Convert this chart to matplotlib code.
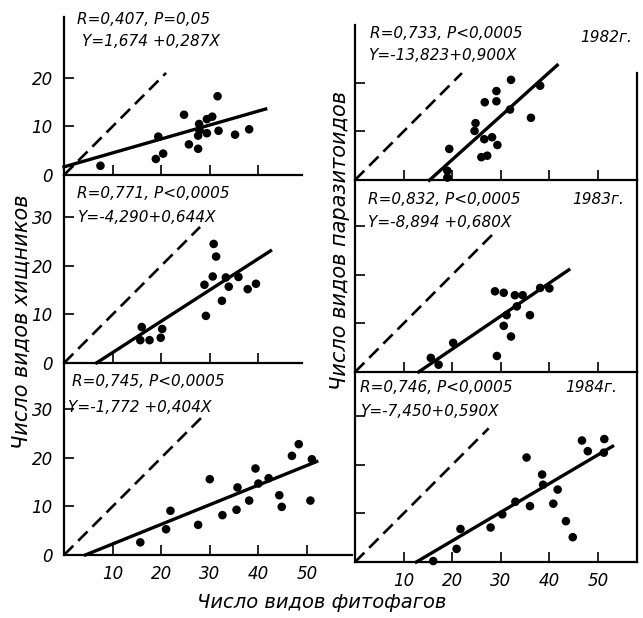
import numpy as np
import matplotlib
matplotlib.use("Agg")
from matplotlib import pyplot as plt

plt.rcParams["font.family"] = ["DejaVu Sans"]
plt.rcParams["font.style"] = "italic"

# predators (left column) vs phytophages, 1982..1984
pred82_x = [7.5, 18.9, 20.4, 19.4, 24.7, 25.7, 27.6, 27.6, 27.8, 27.9, 29.4, 29.4, 30.5, 31.6, 31.8, 35.2, 38.1]
pred82_y = [1.9, 3.3, 4.4, 7.9, 12.4, 6.3, 5.4, 8.1, 10.5, 9.2, 8.6, 11.5, 12.0, 16.2, 9.1, 8.3, 9.4]
pred83_x = [30.8, 31.3, 30.6, 33.3, 35.9, 28.9, 33.9, 37.8, 39.5, 32.5, 29.2, 16.0, 20.2, 15.7, 17.6, 19.9]
pred83_y = [24.5, 21.9, 17.8, 17.6, 17.7, 16.1, 15.7, 15.2, 16.3, 12.8, 9.7, 7.4, 7.0, 4.7, 4.7, 5.2]
pred84_x = [15.7, 21.0, 21.9, 27.6, 30.0, 32.6, 35.5, 35.7, 38.1, 39.4, 40.0, 42.1, 44.3, 44.8, 46.9, 48.3, 51.0, 50.7]
pred84_y = [2.6, 5.3, 9.1, 6.2, 15.6, 8.2, 9.3, 13.9, 11.2, 17.8, 14.7, 15.8, 12.3, 9.9, 20.4, 22.8, 19.7, 11.2]

# parasitoids (right column)
par82_x = [32.1, 29.1, 29.1, 26.7, 31.9, 38.1, 36.2, 24.8, 24.6, 26.6, 28.2, 29.3, 19.4, 26.0, 27.2, 19.0, 19.0]
par82_y = [20.6, 18.3, 16.2, 16.0, 14.5, 19.4, 12.8, 11.7, 10.1, 8.4, 8.8, 7.2, 6.4, 4.7, 5.0, 1.9, 0.5]
par83_x = [28.8, 30.6, 32.9, 34.5, 38.1, 40.0, 33.3, 31.2, 36.0, 30.6, 32.1, 20.2, 15.6, 17.2, 29.2]
par83_y = [16.6, 16.3, 15.8, 15.8, 17.3, 17.2, 13.5, 11.7, 11.7, 9.5, 7.3, 6.0, 2.9, 1.5, 3.3]
par84_x = [16.1, 20.9, 21.7, 27.9, 30.3, 33.0, 35.3, 36.0, 38.5, 38.7, 41.7, 40.8, 43.4, 44.8, 46.7, 47.9, 51.3, 51.2]
par84_y = [0.2, 2.7, 6.8, 7.1, 9.8, 12.4, 21.5, 11.5, 18.0, 15.9, 14.9, 12.0, 8.4, 5.1, 25.0, 22.8, 25.3, 22.5]

# regression Y = a + bX and the x span drawn
reg_a = [1.674, -13.823, -4.290, -8.894, -1.772, -7.450]
reg_b = [0.287, 0.900, 0.644, 0.680, 0.404, 0.590]
reg_x0 = [0.0, 15.3, 6.7, 13.1, 4.4, 12.6]
reg_x1 = [41.5, 41.6, 42.5, 44.0, 52.0, 53.0]
diag_end = [21, 22, 28, 28.5, 28.5, 27.5]

stat_r = ["R=0,407, P=0,05", "R=0,733, P<0,0005", "R=0,771, P<0,0005",
          "R=0,832, P<0,0005", "R=0,745, P<0,0005", "R=0,746, P<0,0005"]
stat_eq = ["Y=1,674 +0,287X", "Y=-13,823+0,900X", "Y=-4,290+0,644X",
           "Y=-8,894 +0,680X", "Y=-1,772 +0,404X", "Y=-7,450+0,590X"]
years = ["", "1982г.", "", "1983г.", "", "1984г."]

xs = [pred82_x, par82_x, pred83_x, par83_x, pred84_x, par84_x]
ys = [pred82_y, par82_y, pred83_y, par83_y, pred84_y, par84_y]

W, H = 643, 618
PX = 4.86  # pixels per unit

def box(l, t, r, b):
    return [l / W, 1 - b / H, (r - l) / W, (b - t) / H]

boxes = [(64, 17, 352, 175), (355, 25, 637, 180),
         (64, 175, 352, 363), (355, 180, 637, 372),
         (64, 363, 352, 555), (355, 372, 637, 562)]
text_pos = [(77, 20, 82, 42), (370, 33, 368, 55),
            (77, 193, 77, 217), (368, 200, 368, 222),
            (72, 382, 68, 407), (360, 388, 360, 412)]
year_pos = [None, (580, 37), None, (572, 200), None, (565, 388)]

fig = plt.figure(figsize=(6.43, 6.18), dpi=100)

for i in range(6):
    l, t, r, b = boxes[i]
    ax = fig.add_axes(box(l, t, r, b))
    ax.patch.set_alpha(0)
    ax.set_xlim(0, (r - l) / PX)
    ax.set_ylim(0, (b - t) / PX)
    left = i % 2 == 0
    row = i // 2

    d = np.array([0, diag_end[i]])
    ax.plot(d, d, c="k", lw=1.9, dashes=(5, 2.6), solid_capstyle="butt")
    rx = np.array([reg_x0[i], reg_x1[i]])
    ax.plot(rx, reg_a[i] + reg_b[i] * rx, c="k", lw=2.4, clip_on=False)
    ax.scatter(xs[i], ys[i], s=38, c="k", edgecolors="none", zorder=3, clip_on=False)

    ax.spines["top"].set_visible(False)
    for s in ax.spines.values():
        s.set_linewidth(1.6)
    if left:
        ax.spines["right"].set_visible(False)
        if row < 2:
            ax.spines["bottom"].set_bounds(0, 49)
    elif row == 0:
        ax.spines["right"].set_bounds(0, 22)

    if left and row < 2:
        ax.set_xticks([10, 20, 30, 40])
    else:
        ax.set_xticks([10, 20, 30, 40, 50])
    ax.set_yticks([0, 10, 20] if row == 0 else [0, 10, 20, 30])
    ax.tick_params(direction="in", length=7, width=1.2, labelsize=12, pad=8)
    ax.tick_params(axis="x", pad=7)
    if not left:
        ax.tick_params(axis="y", labelleft=False)
    if row < 2:
        ax.tick_params(axis="x", labelbottom=False)

    x1, y1, x2, y2 = text_pos[i]
    fig.text(x1 / W, 1 - y1 / H, stat_r[i], fontsize=11, va="center", ha="left")
    fig.text(x2 / W, 1 - y2 / H, stat_eq[i], fontsize=11, va="center", ha="left")
    if year_pos[i]:
        fig.text(year_pos[i][0] / W, 1 - year_pos[i][1] / H, years[i],
                 fontsize=11, va="center", ha="left")

fig.text(22 / W, 1 - 322 / H, "Число видов хищников", rotation=90,
         fontsize=15, ha="center", va="center")
fig.text(340 / W, 1 - 240 / H, "Число видов паразитоидов", rotation=90,
         fontsize=15, ha="center", va="center")
fig.text(322 / W, 1 - 603 / H, "Число видов фитофагов",
         fontsize=14, ha="center", va="center")

fig.savefig("out.png", dpi=100)
